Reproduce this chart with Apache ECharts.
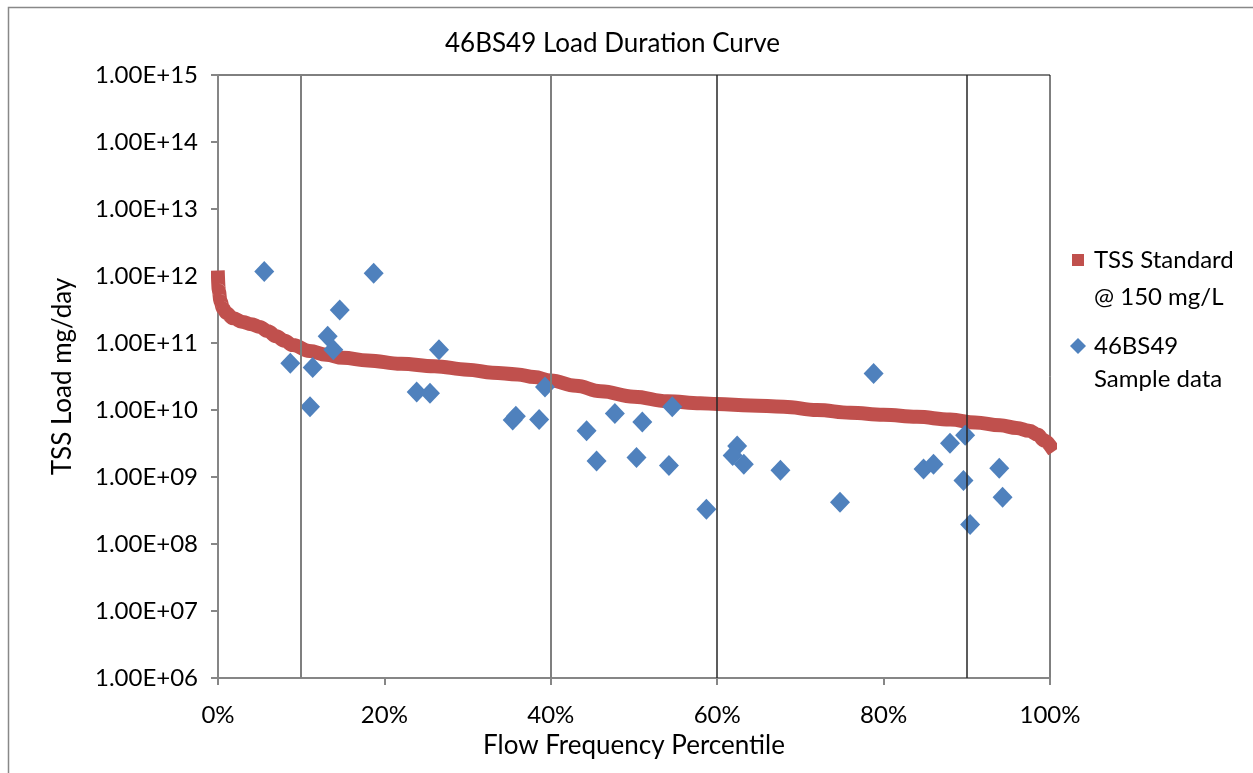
<!DOCTYPE html>
<html>
<head>
<meta charset="utf-8">
<script src="https://cdn.jsdelivr.net/npm/echarts@6/dist/echarts.min.js"></script>
<style>
  html, body { margin: 0; padding: 0; background: #fff; }
  #chart { width: 1253px; height: 773px; }
</style>
</head>
<body>
<div id="chart"></div>
<script>
    // TSS standard curve (flow percentile, load mg/day)
    const curvePct = [0, 0.1, 0.3, 0.6, 1, 1.8, 3, 4, 5, 6, 7, 8, 9, 11, 13, 15, 18, 22, 26, 30, 33, 36, 38,
        40, 43, 46, 50, 54, 58, 60, 64, 68, 72, 76, 80, 84, 88, 91, 94, 96, 97.5, 98.5, 99.3, 100]
    const curveLoad = [9.5e11, 6.0e11, 4.2e11, 3.3e11, 2.8e11, 2.35e11, 2.05e11, 1.9e11, 1.74e11, 1.5e11, 1.26e11, 1.08e11, 9.3e10,
        7.6e10, 6.7e10, 6.0e10, 5.5e10, 4.9e10, 4.5e10, 4.0e10, 3.6e10, 3.4e10, 3.1e10,
        2.75e10, 2.3e10, 1.9e10, 1.58e10, 1.35e10, 1.26e10, 1.23e10, 1.17e10, 1.12e10, 1.0e10,
        9.1e9, 8.5e9, 7.9e9, 7.2e9, 6.5e9, 5.9e9, 5.4e9, 4.9e9, 4.3e9, 3.5e9, 2.95e9]

    // 46BS49 sample data
    const samplePct = [5.56, 18.71, 14.63, 13.18, 13.86, 8.69, 11.38, 11.06, 26.56, 23.88, 25.48,
        35.42, 35.8, 38.6, 39.3, 44.3, 45.5, 47.7, 50.3, 51.0, 54.2, 54.6, 58.7, 62.4, 61.86,
        63.2, 67.6, 78.8, 74.76, 84.8, 86.0, 87.98, 89.8, 89.6, 90.4, 93.9, 94.3]
    const sampleLoad = [1.17e12, 1.1e12, 3.1e11, 1.26e11, 7.9e10, 5.0e10, 4.3e10, 1.12e10, 7.9e10, 1.86e10, 1.78e10,
        7.1e9, 8.1e9, 7.2e9, 2.2e10, 4.9e9, 1.74e9, 8.9e9, 1.95e9, 6.6e9, 1.48e9, 1.12e10, 3.3e8, 2.9e9, 2.1e9,
        1.55e9, 1.26e9, 3.5e10, 4.2e8, 1.32e9, 1.55e9, 3.2e9, 4.2e9, 8.9e8, 1.95e8, 1.35e9, 5.0e8]

    // flow regime dividers
    const dividers = [10, 40, 60, 90]
    const dividerColors = ['#7f7f7f', '#7f7f7f', '#262626', '#262626']
    const dividerWidths = [2, 2, 1.5, 1.5]

    const fontFamily = 'Lato, "Open Sans", sans-serif'
    const red = '#C0504D'
    const blue = '#4F81BD'

    const chart = echarts.init(document.getElementById('chart'))

    const option = {
        animation: false,
        title: {
            text: '46BS49 Load Duration Curve',
            left: 440,
            top: 26,
            textStyle: { fontFamily, fontSize: 26, fontWeight: 'normal', color: '#000' }
        },
        grid: {
            left: 218,
            right: 203,
            top: 75,
            bottom: 95,
            show: true,
            borderColor: '#000',
            borderWidth: 1,
            backgroundColor: 'transparent'
        },
        xAxis: {
            type: 'value',
            min: 0,
            max: 100,
            interval: 20,
            name: 'Flow Frequency Percentile',
            nameLocation: 'middle',
            nameGap: 55,
            nameTextStyle: { fontFamily, fontSize: 26, color: '#000' },
            axisLine: { lineStyle: { color: '#868686', width: 2 } },
            axisTick: { show: true, inside: false, length: 7, lineStyle: { color: '#868686', width: 2 } },
            axisLabel: { formatter: '{value}%', margin: 25, fontFamily, fontSize: 24, color: '#000' },
            splitLine: { show: false }
        },
        yAxis: {
            type: 'log',
            logBase: 10,
            min: 1e6,
            max: 1e15,
            interval: 1,
            name: 'TSS Load mg/day',
            nameLocation: 'middle',
            nameGap: 142,
            nameTextStyle: { fontFamily, fontSize: 26, color: '#000' },
            axisLine: { show: true, lineStyle: { color: '#868686', width: 2 } },
            axisTick: { show: true, inside: false, length: 7, lineStyle: { color: '#868686', width: 2 } },
            axisLabel: {
                margin: 20,
                fontFamily,
                fontSize: 24,
                color: '#000',
                formatter: function (v) {
                    const e = Math.round(Math.log10(v))
                    return '1.00E+' + (e < 10 ? '0' + e : e)
                }
            },
            splitLine: { show: false },
            minorTick: { show: false }
        },
        series: [
            {
                name: 'dividers',
                type: 'line',
                data: [],
                silent: true,
                markLine: {
                    symbol: 'none',
                    silent: true,
                    label: { show: false },
                    data: dividers.map((d, i) => ({
                        xAxis: d,
                        lineStyle: { color: dividerColors[i], width: dividerWidths[i], type: 'solid' }
                    }))
                }
            },
            {
                name: 'TSS Standard @ 150 mg/L',
                type: 'line',
                data: curvePct.map((p, i) => [p, curveLoad[i]]),
                smooth: 0.4,
                smoothMonotone: 'x',
                showSymbol: false,
                clip: false,
                lineStyle: { color: red, width: 14, cap: 'square', join: 'round' },
                z: 3
            },
            {
                name: '46BS49 Sample data',
                type: 'scatter',
                data: samplePct.map((p, i) => [p, sampleLoad[i]]),
                symbol: 'diamond',
                symbolSize: [20, 21],
                itemStyle: { color: blue, opacity: 1 },
                z: 4
            }
        ],
        graphic: [
            {
                type: 'rect',
                left: 6, top: 5, silent: true,
                shape: { width: 1300, height: 800 },
                style: { fill: 'none', stroke: '#888', lineWidth: 1.5 }
            },
            {
                type: 'rect',
                shape: { x: 1072, y: 254, width: 12, height: 12 },
                style: { fill: red }
            },
            {
                type: 'text',
                style: { x: 1094, y: 260, text: 'TSS Standard', font: '24px ' + fontFamily, fill: '#000', verticalAlign: 'middle' }
            },
            {
                type: 'text',
                style: { x: 1094, y: 297, text: '@ 150 mg/L', font: '24px ' + fontFamily, fill: '#000', verticalAlign: 'middle' }
            },
            {
                type: 'polygon',
                shape: { points: [[1078, 338], [1086, 346], [1078, 354], [1070, 346]] },
                style: { fill: blue }
            },
            {
                type: 'text',
                style: { x: 1094, y: 346, text: '46BS49', font: '24px ' + fontFamily, fill: '#000', verticalAlign: 'middle' }
            },
            {
                type: 'text',
                style: { x: 1094, y: 379, text: 'Sample data', font: '24px ' + fontFamily, fill: '#000', verticalAlign: 'middle' }
            }
        ]
    }

    chart.setOption(option)
</script>
</body>
</html>
